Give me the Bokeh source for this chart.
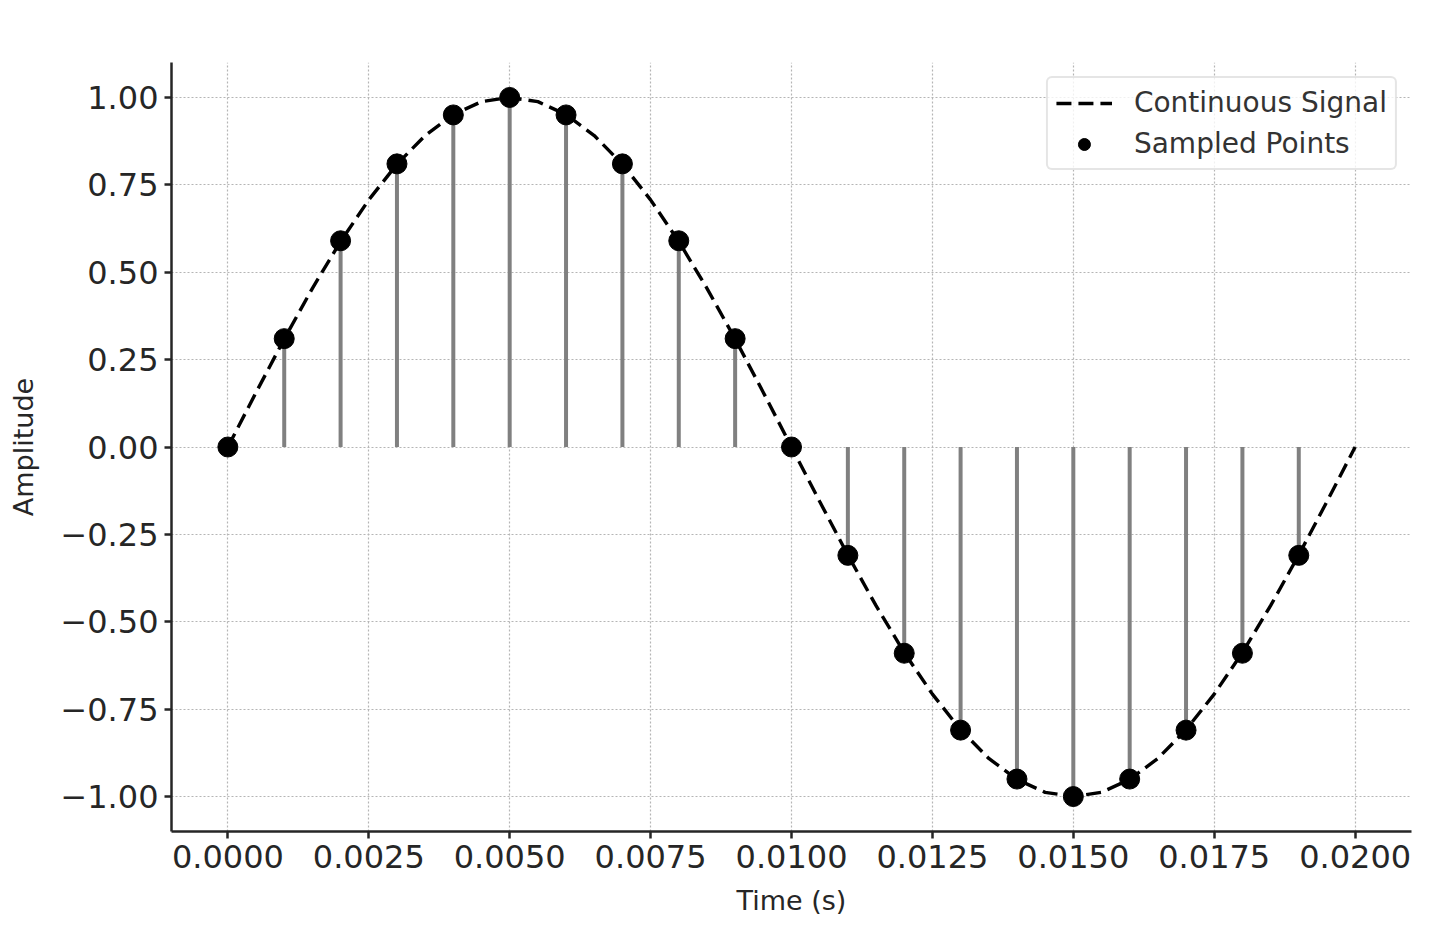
from bokeh.plotting import figure
from bokeh.models import FixedTicker, Range1d, Legend, LegendItem
from bokeh.embed import file_html
from bokeh.resources import INLINE

# Sampled points
sample_t = [0.000, 0.001, 0.002, 0.003, 0.004, 0.005, 0.006, 0.007, 0.008, 0.009,
            0.010, 0.011, 0.012, 0.013, 0.014, 0.015, 0.016, 0.017, 0.018, 0.019]
sample_v = [0.00, 0.31, 0.59, 0.81, 0.95, 1.00, 0.95, 0.81, 0.59, 0.31,
            0.00, -0.31, -0.59, -0.81, -0.95, -1.00, -0.95, -0.81, -0.59, -0.31]

# Continuous signal (read at 0.0005 s steps)
cont_t = [i * 0.0005 for i in range(41)]
cont_v = [0.000, 0.156, 0.309, 0.454, 0.588, 0.707, 0.809, 0.891, 0.951, 0.988,
          1.000, 0.988, 0.951, 0.891, 0.809, 0.707, 0.588, 0.454, 0.309, 0.156,
          0.000, -0.156, -0.309, -0.454, -0.588, -0.707, -0.809, -0.891, -0.951, -0.988,
          -1.000, -0.988, -0.951, -0.891, -0.809, -0.707, -0.588, -0.454, -0.309, -0.156,
          0.000]

x_ticks = [0.0, 0.0025, 0.005, 0.0075, 0.01, 0.0125, 0.015, 0.0175, 0.02]
x_labels = ["0.0000", "0.0025", "0.0050", "0.0075", "0.0100", "0.0125", "0.0150", "0.0175", "0.0200"]
y_ticks = [-1.0, -0.75, -0.5, -0.25, 0.0, 0.25, 0.5, 0.75, 1.0]
y_labels = ["\u22121.00", "\u22120.75", "\u22120.50", "\u22120.25", "0.00", "0.25", "0.50", "0.75", "1.00"]

FONT = "DejaVu Sans"
TXT = "#262626"

p = figure(width=1423, height=924, output_backend="svg", toolbar_location=None,
           x_range=Range1d(-0.001, 0.021), y_range=Range1d(-1.1, 1.1),
           min_border_left=171, min_border_right=12, min_border_top=62, min_border_bottom=93)
p.outline_line_color = None
p.background_fill_color = "white"
p.border_fill_color = "white"

# Grid
for g in (p.xgrid, p.ygrid):
    g.grid_line_color = "#b5b5b5"
    g.grid_line_dash = "2 2"
    g.grid_line_width = 1.2
p.xgrid.ticker = FixedTicker(ticks=x_ticks)
p.ygrid.ticker = FixedTicker(ticks=y_ticks)

# Axes
p.xaxis.ticker = FixedTicker(ticks=x_ticks)
p.yaxis.ticker = FixedTicker(ticks=y_ticks)
p.xaxis.major_label_overrides = {t: l for t, l in zip(x_ticks, x_labels)}
p.yaxis.major_label_overrides = {t: l for t, l in zip(y_ticks, y_labels)}
for ax in (p.xaxis, p.yaxis):
    ax.axis_line_color = TXT
    ax.axis_line_width = 2.5
    ax.major_tick_line_color = TXT
    ax.major_tick_line_width = 2.5
    ax.major_tick_out = 7
    ax.major_tick_in = 0
    ax.minor_tick_line_color = None
    ax.major_label_text_font = FONT
    ax.major_label_text_font_size = "32px"
    ax.major_label_text_color = TXT
    ax.axis_label_text_font = FONT
    ax.axis_label_text_font_size = "27px"
    ax.axis_label_text_font_style = "normal"
    ax.axis_label_text_color = TXT
    ax.major_label_standoff = 6
p.xaxis.axis_label = "Time (s)"
p.yaxis.axis_label = "Amplitude"
p.xaxis.axis_label_standoff = 14
p.yaxis.axis_label_standoff = 18

# Stems
p.segment(x0=sample_t, y0=[0] * len(sample_t), x1=sample_t, y1=sample_v,
          line_color="#808080", line_width=4)

# Continuous signal
r_line = p.line(cont_t, cont_v, line_color="black", line_width=3.4, line_dash="15 7")

# Samples
r_pts = p.scatter(sample_t, sample_v, size=20, fill_color="black", line_color="black")

legend = Legend(items=[LegendItem(label="Continuous Signal", renderers=[r_line]),
                       LegendItem(label="Sampled Points", renderers=[r_pts])],
                location="top_right")
legend.label_text_font = FONT
legend.label_text_font_size = "28px"
legend.label_text_color = "#333333"
legend.glyph_width = 56
legend.glyph_height = 30
legend.label_standoff = 22
legend.padding = 8
legend.spacing = 8
legend.margin = 14
legend.border_line_color = "#cccccc"
legend.border_line_width = 2
legend.border_radius = 6
legend.background_fill_color = "white"
legend.background_fill_alpha = 0.8
p.add_layout(legend)

open("out.html", "w").write(file_html(p, INLINE))
